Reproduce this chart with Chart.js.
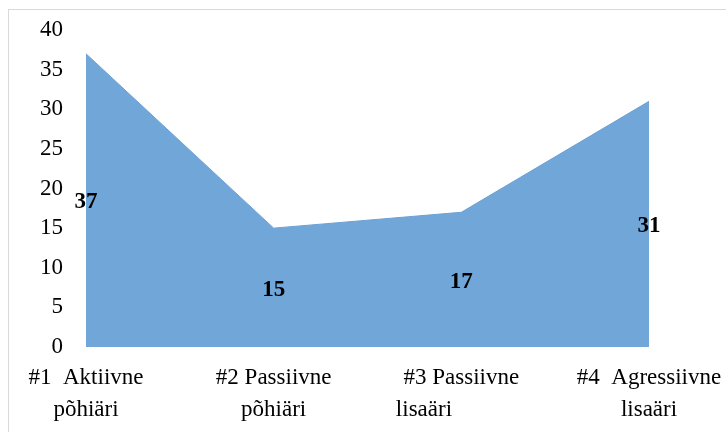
<!DOCTYPE html>
<html>
<head>
<meta charset="utf-8">
<script src="https://cdn.jsdelivr.net/npm/chart.js@4"></script>
<style>
    body { margin: 0; background: #fff; overflow: hidden; }
    .frame {
        position: absolute; left: 8px; top: 9px;
        width: 760px; height: 460px;
        border: 1px solid #d9d9d9;
    }
    #chart { position: absolute; left: 0; top: 0; }
</style>
</head>
<body>
<div class="frame"></div>
<canvas id="chart" width="726" height="432"></canvas>
<script>
const categories = [
    ['#1  Aktiivne', 'põhiäri'],
    ['#2 Passiivne', 'põhiäri'],
    ['#3 Passiivne', 'lisaäri             '],
    ['#4  Agressiivne', 'lisaäri']
];
const values = [37, 15, 17, 31];
const yTicks = [0, 5, 10, 15, 20, 25, 30, 35, 40];

const font = "'Liberation Serif', 'Times New Roman', serif";

// value labels, drawn halfway up the area like in the original
const midLabels = {
    id: 'midLabels',
    afterDatasetsDraw(chart) {
        const ctx = chart.ctx;
        const x = chart.scales.x;
        const y = chart.scales.y;
        ctx.save();
        ctx.font = 'bold 23px ' + font;
        ctx.fillStyle = '#000';
        ctx.textAlign = 'center';
        ctx.textBaseline = 'middle';
        values.forEach((v, i) => {
            ctx.fillText(String(v), x.getPixelForValue(i), y.getPixelForValue(v / 2) + 2);
        });
        ctx.restore();
    }
};

new Chart(document.getElementById('chart').getContext('2d'), {
    type: 'line',
    data: {
        labels: categories,
        datasets: [{
            data: values,
            fill: 'origin',
            backgroundColor: '#71a6d9',
            borderColor: '#6ca1d5',
            borderWidth: 1,
            pointRadius: 0,
            tension: 0
        }]
    },
    options: {
        responsive: false,
        animation: false,
        layout: { padding: { left: 0, right: 77, top: 30, bottom: 0 } },
        plugins: {
            legend: { display: false },
            tooltip: { enabled: false }
        },
        scales: {
            x: {
                offset: false,
                grid: { display: false, drawTicks: false },
                border: { display: false },
                ticks: {
                    color: '#000',
                    padding: 15,
                    maxRotation: 0,
                    autoSkip: false,
                    font: { family: font, size: 23, lineHeight: 1.4 }
                },
                afterFit(scale) {
                    scale.height = 85;
                    scale.paddingLeft = 0;
                    scale.paddingRight = 0;
                }
            },
            y: {
                min: 0,
                max: 40,
                grid: { display: false, drawTicks: false },
                border: { display: false },
                afterBuildTicks(scale) { scale.ticks = yTicks.map(v => ({ value: v })); },
                ticks: {
                    color: '#000',
                    padding: 23,
                    font: { family: font, size: 23 }
                },
                afterFit(scale) {
                    scale.width = 86;
                    scale.paddingTop = 0;
                    scale.paddingBottom = 0;
                }
            }
        }
    },
    plugins: [midLabels]
});
</script>
</body>
</html>
